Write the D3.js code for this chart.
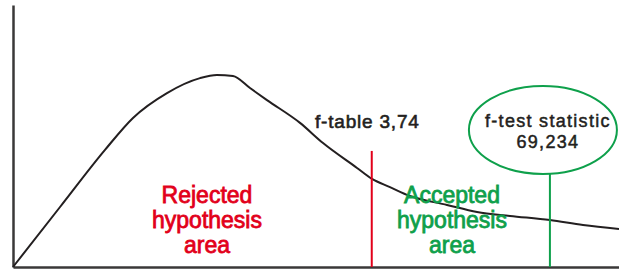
<!DOCTYPE html>
<html>
<head>
<meta charset="utf-8">
<script src="https://cdn.jsdelivr.net/npm/d3@7"></script>
<style>
    body { margin: 0; background: #fff; }
    svg { display: block; }
    text { font-family: "Liberation Sans", Arial, sans-serif; }
</style>
</head>
<body>
<div id="chart"></div>
<script>
// F-distribution sketch (arbitrary units)
const curveX = [0, 0.776, 1.518, 1.980, 2.541, 3.086, 3.366, 3.630, 3.911, 4.191, 4.736, 5.116, 5.677, 5.924, 6.221, 6.551, 7.162, 7.657, 8.201, 8.861, 9.406, 10];
const curveY = [0, 0.229, 0.447, 0.569, 0.664, 0.721, 0.733, 0.729, 0.683, 0.637, 0.550, 0.473, 0.378, 0.336, 0.305, 0.271, 0.237, 0.210, 0.195, 0.179, 0.160, 0.145];

const fTablePos = 5.92;      // where the critical line sits
const fTableTop = 0.443;
const fTestPos = 8.86;       // where the test statistic sits
const fTestTop = 0.355;

const labels = {
    fTable: "f-table 3,74",
    fTest: ["f-test statistic", "69,234"],
    rejected: ["Rejected", "hypothesis", "area"],
    accepted: ["Accepted", "hypothesis", "area"]
};

const CONFIG = {
    width: 619,
    height: 270,
    margin: { top: 5, right: 0, bottom: 3, left: 13 },
    colors: {
        axis: "#3a3838",
        curve: "#231f20",
        red: "#e2001a",
        green: "#0ea04b"
    }
};

function draw() {
    const { width, height, margin, colors } = CONFIG;

    const svg = d3.select("#chart")
        .append("svg")
        .attr("width", width)
        .attr("height", height);

    const x = d3.scaleLinear()
        .domain([0, 10])
        .range([margin.left, width - margin.right]);

    const y = d3.scaleLinear()
        .domain([0, 1])
        .range([height - margin.bottom, margin.top]);

    // axes without ticks, only the domain lines
    svg.append("g")
        .attr("transform", `translate(0,${y(0)})`)
        .call(d3.axisBottom(x).ticks(0).tickSizeOuter(0))
        .select(".domain")
        .attr("stroke", colors.axis)
        .attr("stroke-width", 2.5);

    svg.append("g")
        .attr("transform", `translate(${x(0)},0)`)
        .call(d3.axisLeft(y).ticks(0).tickSizeOuter(0))
        .select(".domain")
        .attr("stroke", colors.axis)
        .attr("stroke-width", 2.5);

    const points = curveX.map((v, i) => [v, curveY[i]]);

    const line = d3.line()
        .x(d => x(d[0]))
        .y(d => y(d[1]))
        .curve(d3.curveMonotoneX);

    svg.append("path")
        .datum(points)
        .attr("fill", "none")
        .attr("stroke", colors.curve)
        .attr("stroke-width", 2)
        .attr("d", line);

    // critical line
    svg.append("line")
        .attr("x1", x(fTablePos)).attr("x2", x(fTablePos))
        .attr("y1", y(fTableTop)).attr("y2", y(0))
        .attr("stroke", colors.red)
        .attr("stroke-width", 2);

    // test statistic line + bubble
    svg.append("line")
        .attr("x1", x(fTestPos)).attr("x2", x(fTestPos))
        .attr("y1", y(fTestTop)).attr("y2", y(0))
        .attr("stroke", colors.green)
        .attr("stroke-width", 2);

    const ry = 44;
    const cx = x(fTestPos) - 7;
    const cy = y(fTestTop) - ry;

    svg.append("ellipse")
        .attr("cx", cx)
        .attr("cy", cy)
        .attr("rx", 74)
        .attr("ry", ry)
        .attr("fill", "none")
        .attr("stroke", colors.green)
        .attr("stroke-width", 2);

    svg.append("text")
        .attr("text-anchor", "middle")
        .attr("fill", colors.curve)
        .attr("stroke", colors.curve)
        .attr("stroke-width", 0.5)
        .attr("font-size", 18)
        .attr("letter-spacing", 1.3)
        .selectAll("tspan")
        .data(labels.fTest)
        .join("tspan")
        .attr("x", x(fTestPos) - 2)
        .attr("y", (d, i) => cy - 3 + i * 21)
        .text(d => d);

    svg.append("text")
        .attr("x", 315)
        .attr("y", 128)
        .attr("fill", colors.curve)
        .attr("stroke", colors.curve)
        .attr("stroke-width", 0.6)
        .attr("font-size", 19)
        .attr("letter-spacing", 0.8)
        .text(labels.fTable);

    const areaLabel = (lines, cxText, color) => {
        svg.append("text")
            .attr("text-anchor", "middle")
            .attr("fill", color)
            .attr("stroke", color)
            .attr("stroke-width", 0.8)
            .attr("font-size", 23)
            .selectAll("tspan")
            .data(lines)
            .join("tspan")
            .attr("x", cxText)
            .attr("y", (d, i) => 203 + i * 25)
            .text(d => d);
    };

    areaLabel(labels.rejected, 207, colors.red);
    areaLabel(labels.accepted, 452, colors.green);
}

document.addEventListener('DOMContentLoaded', draw);
</script>
</body>
</html>
